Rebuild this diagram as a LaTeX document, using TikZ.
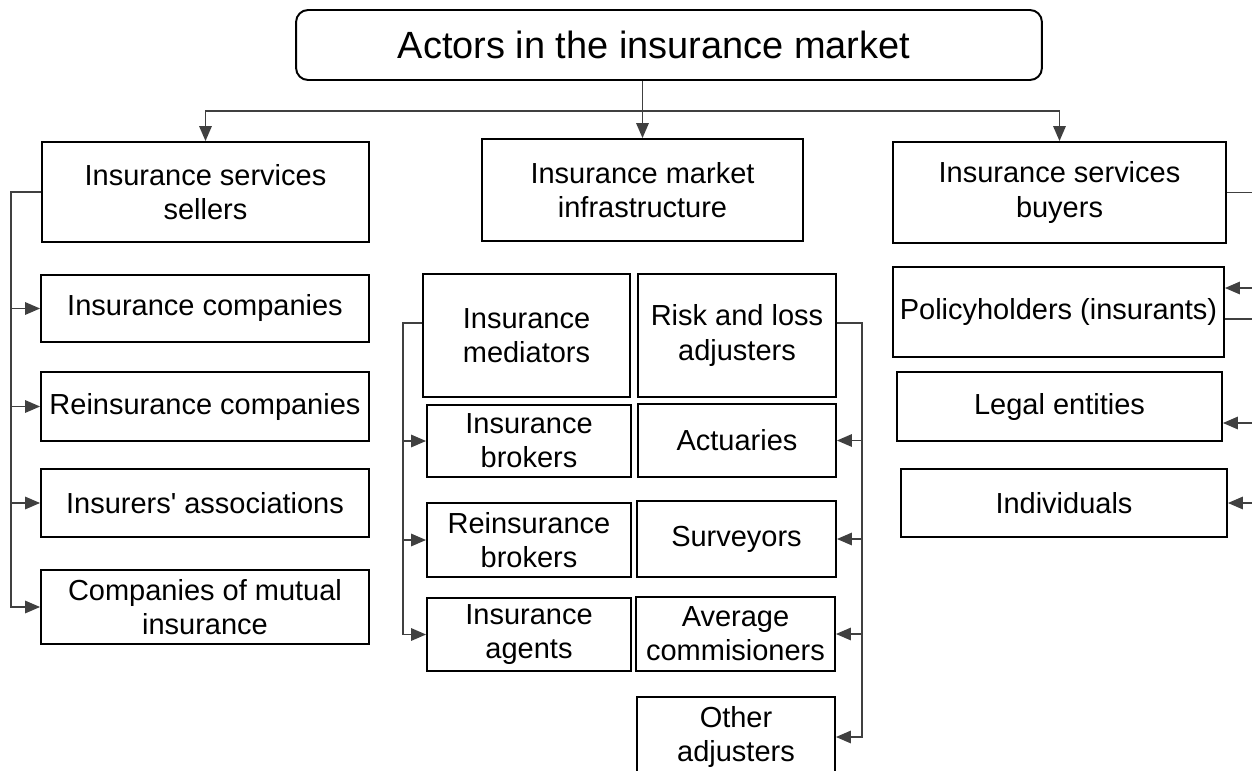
\documentclass[tikz,border=0pt]{standalone}
\usepackage{fontspec}
\setmainfont{Liberation Sans}
\usetikzlibrary{arrows.meta}
\newcommand\bodyfont{\fontsize{16.5}{19.5}\selectfont}
\newcommand\titlefont{\fontsize{21.6}{26}\selectfont}
\tikzset{
	box/.style={draw=black, line width=1.1pt, align=center, inner sep=1pt, font=\bodyfont},
	conn/.style={draw=black!75, line width=0.9pt},
	arr/.style={conn, -{Triangle[length=0.3cm,width=0.25cm]}},
}

\begin{document}
\begin{tikzpicture}[x=0.02cm, y=-0.02cm]
		%%%%% START %%%%%
		\useasboundingbox (0,0) rectangle (1252,771);
		\clip (0,0) rectangle (1252,771);
		\fill[white] (0,0) rectangle (1252,771);
		
		\node[box, rounded corners=0.24cm, font=\titlefont, minimum width=14.92cm, minimum height=1.4cm] (actors) at (669,45) {\hspace*{-0.6cm}Actors in the insurance market};
		
		\node[box, minimum width=6.54cm, minimum height=2cm] (sellers) at (205.5,192) {Insurance services\\sellers};
		\node[box, minimum width=6.42cm, minimum height=2.04cm] (infra) at (642.5,190) {Insurance market\\infrastructure};
		\node[box, minimum width=6.66cm, minimum height=2.02cm] (buyers) at (1059.5,192.5) {Insurance services\\buyers};
		
		% sellers
		\node[box, minimum width=6.56cm, minimum height=1.34cm] (inscomp) at (205,308.5) {Insurance companies};
		\node[box, minimum width=6.56cm, minimum height=1.38cm] (reinscomp) at (205,406.5) {Reinsurance companies};
		\node[box, minimum width=6.56cm, minimum height=1.36cm] (assoc) at (205,503) {Insurers\textquotesingle\ associations};
		\node[box, minimum width=6.56cm, minimum height=1.48cm] (mutual) at (205,607) {Companies of mutual\\insurance};
		
		% infrastructure
		\node[box, minimum width=4.14cm, minimum height=2.46cm] (mediators) at (526.5,335.5) {Insurance\\mediators};
		\node[box, minimum width=3.96cm, minimum height=2.46cm] (risk) at (737,335.5) {Risk and loss\\adjusters};
		\node[box, minimum width=4.08cm, minimum height=1.44cm] (brokers) at (529,441) {Insurance\\brokers};
		\node[box, minimum width=3.96cm, minimum height=1.46cm] (actuaries) at (737,440.5) {Actuaries};
		\node[box, minimum width=4.08cm, minimum height=1.48cm] (rbrokers) at (529,540) {Reinsurance\\brokers};
		\node[box, minimum width=3.98cm, minimum height=1.52cm] (surveyors) at (736.5,539) {Surveyors};
		\node[box, minimum width=4.08cm, minimum height=1.46cm] (agents) at (529,634.5) {Insurance\\agents};
		\node[box, minimum width=3.98cm, minimum height=1.48cm] (average) at (735.5,634) {Average\\commisioners};
		\node[box, minimum width=3.96cm, minimum height=1.6cm] (other) at (736,737) {Other\\adjusters};
		
		% buyers
		\node[box, minimum width=6.62cm, minimum height=1.8cm] (policy) at (1058.5,312) {Policyholders (insurants)};
		\node[box, minimum width=6.5cm, minimum height=1.38cm] (legal) at (1059.5,406.5) {Legal entities};
		\node[box, minimum width=6.52cm, minimum height=1.36cm] (indiv) at (1064,503) {Individuals};
		
		% top branching
		\coordinate (split) at ([yshift=-0.6cm]actors.south -| infra.north);
		\draw[conn] (actors.south -| infra.north) -- (split);
		\draw[arr] (split) -- (infra.north);
		\draw[arr] (split) -| (sellers.north);
		\draw[arr] (split) -| (buyers.north);
		
		% left bus
		\coordinate (lx) at (11,0);
		\draw[arr] (sellers.west) -| (lx |- mutual.west) -- (mutual.west);
		\foreach \n in {inscomp,reinscomp,assoc}
			\draw[arr] (lx |- \n.west) -- (\n.west);
		
		% middle buses
		\coordinate (mx) at (403,0);
		\draw[arr] ([yshift=0.25cm]mediators.west) -| (mx |- agents.west) -- (agents.west);
		\foreach \n in {brokers,rbrokers}
			\draw[arr] (mx |- \n.west) -- (\n.west);
		
		\coordinate (rx) at (862,0);
		\draw[arr] ([yshift=0.25cm]risk.east) -| (rx |- other.east) -- (other.east);
		\foreach \n in {actuaries,surveyors,average}
			\draw[arr] (rx |- \n.east) -- (\n.east);
		
		% right edge
		\coordinate (ex) at (1260,0);
		\coordinate (pin) at ([yshift=0.48cm]policy.east);
		\coordinate (pout) at ([yshift=-0.14cm]policy.east);
		\coordinate (lin) at ([yshift=-0.33cm]legal.east);
		\draw[conn] (buyers.east) -- (ex |- buyers.east);
		\draw[arr] (ex |- pin) -- (pin);
		\draw[conn] (pout) -- (ex |- pout);
		\draw[arr] (ex |- lin) -- (lin);
		\draw[arr] (ex |- indiv.east) -- (indiv.east);
		
		%%%%% END %%%%%
\end{tikzpicture}
\end{document}
